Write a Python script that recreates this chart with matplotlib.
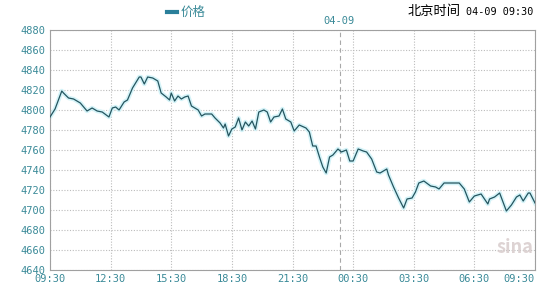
import numpy as np
import matplotlib
matplotlib.use("Agg")
import matplotlib.pyplot as plt

plt.rcParams['font.family'] = ['Noto Sans CJK SC', 'DejaVu Sans']

# minutes after 09:30 (04-08) and price
minutes = [0, 15, 35, 40, 55, 70, 90, 110, 125, 140, 155, 175, 185, 195, 205, 220, 230, 245,
           265, 270, 280, 290, 305, 320, 330, 345, 355, 360, 370, 380, 390, 400, 410, 420,
           430, 440, 450, 460, 480, 490, 505, 515, 520, 530, 540, 550, 560, 570, 580, 590,
           600, 610, 620, 635, 645, 655, 665, 680, 690, 700, 715, 725, 740, 760, 770, 780,
           790, 800, 810, 820, 830, 840, 855, 865, 880, 890, 900, 915, 930, 940, 955, 970,
           980, 1000, 1005, 1020, 1035, 1050, 1060, 1075, 1085, 1095, 1110, 1130, 1145, 1155,
           1170, 1215, 1230, 1245, 1260, 1280, 1300, 1305, 1320, 1335, 1355, 1370, 1385, 1395,
           1405, 1420, 1425, 1440]
price = [4793, 4801, 4819, 4817, 4812, 4811, 4807, 4799, 4802, 4799, 4798, 4793, 4802, 4803,
         4800, 4808, 4810, 4822, 4833, 4833, 4826, 4833, 4832, 4829, 4817, 4813, 4810, 4817,
         4809, 4814, 4811, 4813, 4814, 4804, 4802, 4800, 4794, 4796, 4796, 4792, 4787, 4782,
         4786, 4774, 4781, 4783, 4792, 4780, 4788, 4784, 4789, 4781, 4798, 4800, 4798, 4788,
         4793, 4794, 4801, 4791, 4788, 4779, 4785, 4782, 4778, 4764, 4764, 4753, 4743, 4737,
         4753, 4755, 4761, 4758, 4760, 4749, 4749, 4761, 4759, 4758, 4751, 4738, 4737, 4741,
         4735, 4723, 4712, 4702, 4711, 4712, 4718, 4727, 4729, 4724, 4723, 4721, 4727, 4727,
         4721, 4708, 4714, 4716, 4706, 4711, 4713, 4717, 4699, 4705, 4713, 4715, 4709, 4717,
         4717, 4707]

xtick_pos = [0, 180, 360, 540, 720, 900, 1080, 1260, 1440]
xtick_labels = ['09:30', '12:30', '15:30', '18:30', '21:30', '00:30', '03:30', '06:30', '09:30']
yticks = list(range(4640, 4881, 20))
day_break = 860

teal = '#3a8a98'
fig = plt.figure(figsize=(5.38, 2.86), dpi=100)
ax = fig.add_axes([50/538, 16/286, 485/538, 240/286])

ax.plot(minutes, price, color='#d4f3f8', lw=3.2, solid_joinstyle='round', zorder=2)
ax.plot(minutes, price, color='#24555f', lw=0.9, zorder=3)

ax.set_xlim(0, 1440)
ax.set_ylim(4640, 4880)
ax.set_xticks(xtick_pos)
ax.set_xticklabels(xtick_labels)
ax.set_yticks(yticks)
ax.tick_params(length=0, pad=3, colors=teal, labelsize=7.5)
for lab in ax.get_xticklabels() + ax.get_yticklabels():
    lab.set_family('DejaVu Sans Mono')
ax.get_xticklabels()[-1].set_ha('right')
ax.grid(True, color='#bcbcbc', ls=(0, (1, 1.5)), lw=0.8)
ax.axvline(day_break, color='#a8a8a8', ls=(0, (4, 3)), lw=0.8)
for s in ['top', 'bottom', 'left', 'right']:
    ax.spines[s].set_color('#a0a0a0')

fig.text(339/538, 1 - 21/286, '04-09', color=teal, fontsize=7.5, family='DejaVu Sans Mono',
         ha='center', va='center')
fig.text(466/538, 1 - 12/286, '04-09 09:30', color='black', fontsize=7.3,
         family='DejaVu Sans Mono', ha='left', va='center')
fig.text(461/538, 1 - 12/286, '北京时间', color='black', fontsize=9.5, ha='right', va='center')
fig.add_artist(plt.Line2D([167/538, 177/538], [1 - 12/286] * 2, color='#2a7f9a', lw=3))
fig.text(181/538, 1 - 12/286, '价格', color=teal, fontsize=9, ha='left', va='center')
ax.text(0.997, 0.055, 'sina', transform=ax.transAxes, color='#d8cccc', fontsize=13,
        style='italic', weight='bold', ha='right', va='bottom', alpha=0.85)

fig.savefig('out.png', dpi=100)
